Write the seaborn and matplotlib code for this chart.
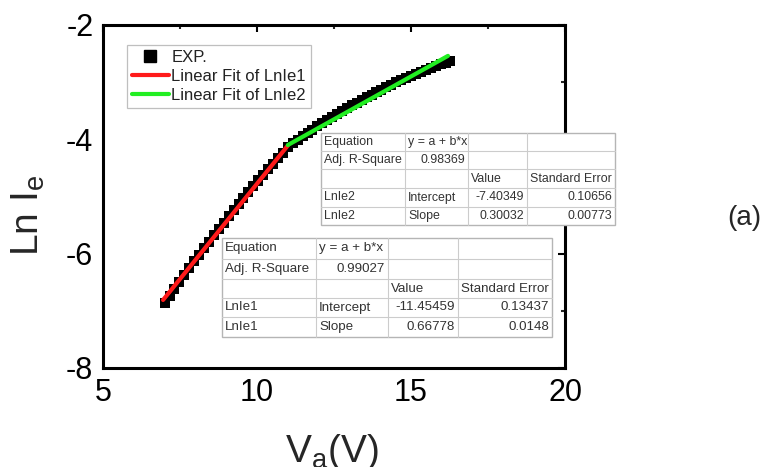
import matplotlib
matplotlib.use("Agg")
import matplotlib.pyplot as plt
import seaborn as sns
import pandas as pd
from matplotlib.lines import Line2D
from matplotlib.patches import Rectangle
from matplotlib.ticker import AutoMinorLocator

# ---------------- data ----------------
v_a = [7.00, 7.16, 7.32, 7.48, 7.64, 7.80, 7.96, 8.12, 8.28, 8.44, 8.60, 8.76, 8.92,
       9.08, 9.24, 9.40, 9.56, 9.72, 9.88, 10.04, 10.20, 10.36, 10.52, 10.68, 10.84,
       11.00, 11.16, 11.32, 11.48, 11.64, 11.80, 11.96, 12.12, 12.28, 12.44, 12.60, 12.76, 12.92,
       13.08, 13.24, 13.40, 13.56, 13.72, 13.88, 14.04, 14.20, 14.36, 14.52, 14.68, 14.84,
       15.00, 15.16, 15.32, 15.48, 15.64, 15.80, 15.96, 16.12, 16.28]
ln_ie = [-6.860, -6.736, -6.613, -6.491, -6.371, -6.252, -6.134, -6.018, -5.903, -5.789, -5.676, -5.565, -5.455,
         -5.346, -5.238, -5.132, -5.027, -4.923, -4.821, -4.720, -4.620, -4.521, -4.424, -4.328, -4.233,
         -4.130, -4.068, -4.007, -3.947, -3.889, -3.831, -3.774, -3.718, -3.664, -3.610, -3.557, -3.506, -3.455,
         -3.405, -3.357, -3.309, -3.263, -3.217, -3.173, -3.129, -3.087, -3.045, -3.005, -2.966, -2.927,
         -2.890, -2.854, -2.818, -2.784, -2.751, -2.719, -2.688, -2.658, -2.628]

fit1_x = [6.95, 11.0]
fit1_y = [-6.81, -4.11]
fit2_x = [11.0, 16.2]
fit2_y = [-4.10, -2.54]

x_ticks = [5, 10, 15, 20]
y_ticks = [-8, -6, -4, -2]

legend_labels = ["EXP.", "Linear Fit of LnIe1", "Linear Fit of LnIe2"]

table_fit1 = [["Equation", "y = a + b*x", "", ""],
              ["Adj. R-Square", "0.99027", "", ""],
              ["", "", "Value", "Standard Error"],
              ["LnIe1", "Intercept", "-11.45459", "0.13437"],
              ["LnIe1", "Slope", "0.66778", "0.0148"]]
table_fit2 = [["Equation", "y = a + b*x", "", ""],
              ["Adj. R-Square", "0.98369", "", ""],
              ["", "", "Value", "Standard Error"],
              ["LnIe2", "Intercept", "-7.40349", "0.10656"],
              ["LnIe2", "Slope", "0.30032", "0.00773"]]

# ---------------- style ----------------
sns.set_style("white")
plt.rcParams["font.family"] = ["Liberation Sans", "DejaVu Sans"]
plt.rcParams["mathtext.fontset"] = "custom"
plt.rcParams["mathtext.rm"] = "Liberation Sans"
plt.rcParams["mathtext.it"] = "Liberation Sans:italic"
plt.rcParams["axes.unicode_minus"] = False

W, H = 767, 467
fig = plt.figure(figsize=(W / 100, H / 100), dpi=100)
ax = fig.add_axes([103 / W, 1 - 368 / H, (565 - 103) / W, (368 - 25) / H])

df = pd.DataFrame({"v": v_a, "ln": ln_ie})
sns.scatterplot(data=df, x="v", y="ln", marker="s", s=52, color="black",
                edgecolor="none", linewidth=0, ax=ax, label=legend_labels[0], zorder=2)
sns.lineplot(x=fit1_x, y=fit1_y, color="#ff1a1a", lw=3.0, ax=ax,
             label=legend_labels[1], zorder=3)
sns.lineplot(x=fit2_x, y=fit2_y, color="#22ee22", lw=3.0, ax=ax,
             label=legend_labels[2], zorder=3)

ax.set_xlim(5, 20)
ax.set_ylim(-8, -2)
ax.set_xticks(x_ticks)
ax.set_yticks(y_ticks)
ax.xaxis.set_minor_locator(AutoMinorLocator(2))
ax.yaxis.set_minor_locator(AutoMinorLocator(2))
ax.tick_params(which="major", direction="in", length=5, width=1.5, top=True, right=True,
               labelsize=22, pad=7, colors="black")
ax.tick_params(which="minor", direction="in", length=3, width=1.5, top=True, right=True)
for sp in ax.spines.values():
    sp.set_linewidth(2.2)
    sp.set_color("black")
ax.set_xlabel("")
ax.set_ylabel("")

# legend
handles = [Line2D([], [], marker="s", ls="none", color="black", markersize=8),
           Line2D([], [], color="#ff1a1a", lw=3.0),
           Line2D([], [], color="#22ee22", lw=3.0)]
leg = ax.legend(handles, legend_labels, loc="upper left",
                bbox_to_anchor=((127 - 103) / 462, 1 - (45 - 25) / 343),
                borderaxespad=0, fontsize=12, frameon=True, fancybox=False,
                handlelength=2.2, handletextpad=0.15, labelspacing=0.25,
                borderpad=0.3, labelcolor="#222222")
leg.get_frame().set_edgecolor("#b0b0b0")
leg.get_frame().set_linewidth(0.9)

# axis labels
fig.text(28 / W, 1 - 215 / H, r"Ln I$_\mathregular{e}$", rotation=90,
         ha="center", va="center", fontsize=28)
fig.text(332 / W, 1 - 432 / H, r"V$_\mathregular{a}$(V)", ha="center", va="top",
         fontsize=28)
fig.text(744 / W, 1 - 218 / H, "(a)", ha="center", va="center", fontsize=20)


def draw_table(cells, cols, rows, fs):
    left, right, top, bottom = cols[0], cols[-1], rows[0], rows[-1]
    fig.add_artist(Rectangle((left / W, 1 - bottom / H), (right - left) / W,
                             (bottom - top) / H, transform=fig.transFigure,
                             facecolor="white", edgecolor="#b5b5b5", lw=1.0, zorder=5))
    for x in cols[1:-1]:
        fig.add_artist(Line2D([x / W, x / W], [1 - top / H, 1 - bottom / H],
                              transform=fig.transFigure, color="#cccccc", lw=0.8, zorder=6))
    for y in rows[1:-1]:
        fig.add_artist(Line2D([left / W, right / W], [1 - y / H, 1 - y / H],
                              transform=fig.transFigure, color="#cccccc", lw=0.8, zorder=6))
    aligns = [["l", "l", "l", "l"],
              ["l", "r", "l", "l"],
              ["l", "l", "l", "r"],
              ["l", "l", "r", "r"],
              ["l", "l", "r", "r"]]
    for r, row in enumerate(cells):
        yc = (rows[r] + rows[r + 1]) / 2
        for c, txt in enumerate(row):
            if not txt:
                continue
            if aligns[r][c] == "l":
                x, ha = cols[c] + 3, "left"
            else:
                x, ha = cols[c + 1] - 3, "right"
            fig.text(x / W, 1 - yc / H, txt, ha=ha, va="center", fontsize=fs,
                     color="#333333", zorder=7)


draw_table(table_fit2, [321, 405, 468, 527, 615], [133, 151, 169, 188, 207, 225], 8.9)
draw_table(table_fit1, [222, 316, 388, 458, 552], [238, 259, 279, 298, 317, 337], 9.6)

fig.savefig("out.png", dpi=100)
